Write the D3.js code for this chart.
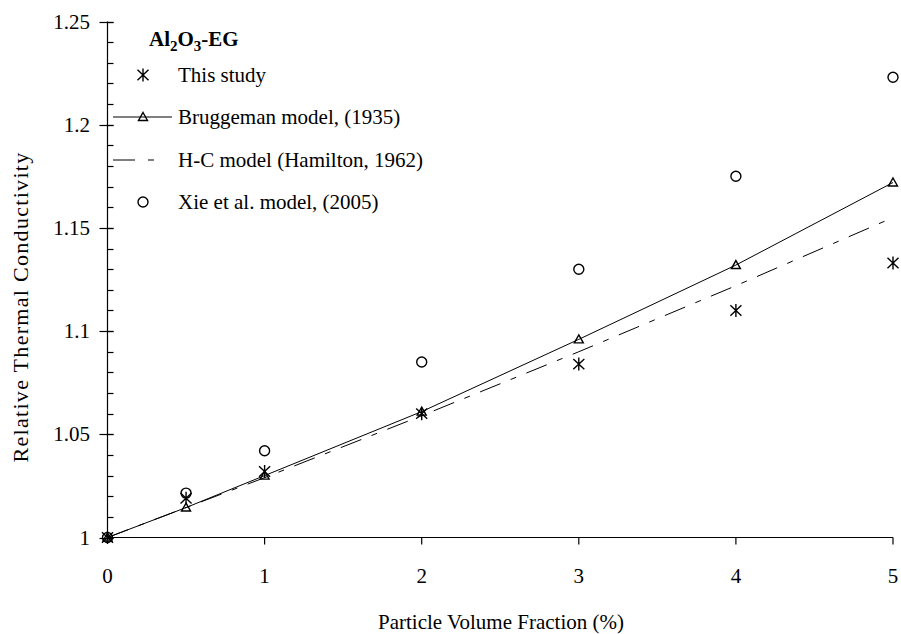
<!DOCTYPE html>
<html>
<head>
<meta charset="utf-8">
<script src="https://cdn.jsdelivr.net/npm/d3@7"></script>
<style>
  body { margin: 0; background: #fff; }
</style>
</head>
<body>
<svg width="901" height="634"></svg>
<script>
// volume fraction (%)
var fractions = [0, 0.5, 1, 2, 3, 4, 5];
var thisStudy = [1.0, 1.019, 1.032, 1.060, 1.084, 1.110, 1.133];
var bruggeman = [1.0, 1.0145, 1.030, 1.061, 1.096, 1.132, 1.172];
var hamilton = [1.0, 1.0145, 1.029, 1.059, 1.090, 1.122, 1.155];
var xie = [1.0, 1.0215, 1.042, 1.085, 1.130, 1.175, 1.223];

var xTicks = [0, 1, 2, 3, 4, 5];
var yTicks = [1, 1.05, 1.1, 1.15, 1.2, 1.25];
var yMinor = d3.range(1, 1.2501, 0.01);

var legendItems = ["This study", "Bruggeman model, (1935)", "H-C model (Hamilton, 1962)", "Xie et al. model, (2005)"];

var FONT = "'Liberation Serif', Tinos, 'Times New Roman', Times, serif";

var svg = d3.select("svg");

var x = d3.scaleLinear().domain([0, 5]).range([107.5, 893]);
var y = d3.scaleLinear().domain([1, 1.25]).range([537.5, 21.5]);

// axes drawn by hand to get the excel look
var axes = svg.append("g").attr("stroke", "#000").attr("stroke-width", 1.2);
axes.append("line").attr("x1", x(0)).attr("x2", x(0)).attr("y1", y(1.25)).attr("y2", y(1));
axes.append("line").attr("x1", x(0)).attr("x2", x(5)).attr("y1", y(1)).attr("y2", y(1));

axes.selectAll(".minor").data(yMinor).enter().append("line")
    .attr("x1", x(0)).attr("x2", x(0) + 6)
    .attr("y1", function(d) { return Math.round(y(d)) + 0.5; })
    .attr("y2", function(d) { return Math.round(y(d)) + 0.5; });

axes.selectAll(".ymajor").data(yTicks).enter().append("line")
    .attr("x1", x(0) - 8).attr("x2", x(0) + 6)
    .attr("y1", function(d) { return Math.round(y(d)) + 0.5; })
    .attr("y2", function(d) { return Math.round(y(d)) + 0.5; });

axes.selectAll(".xmajor").data(xTicks.slice(1)).enter().append("line")
    .attr("x1", function(d) { return x(d); }).attr("x2", function(d) { return x(d); })
    .attr("y1", y(1)).attr("y2", y(1) + 7);

svg.selectAll(".ylab").data(yTicks).enter().append("text")
    .attr("x", 90)
    .attr("y", function(d) { return y(d) + 7; })
    .attr("text-anchor", "end")
    .attr("font-family", FONT).attr("font-size", 21)
    .text(function(d) { return String(+d.toFixed(2)); });

svg.selectAll(".xlab").data(xTicks).enter().append("text")
    .attr("x", function(d) { return x(d); })
    .attr("y", 583)
    .attr("text-anchor", "middle")
    .attr("font-family", FONT).attr("font-size", 21)
    .text(function(d) { return d; });

svg.append("text")
    .attr("x", 501).attr("y", 629)
    .attr("text-anchor", "middle")
    .attr("font-family", FONT).attr("font-size", 21)
    .text("Particle Volume Fraction (%)");

svg.append("text")
    .attr("transform", "translate(28,307) rotate(-90)")
    .attr("text-anchor", "middle")
    .attr("font-family", FONT).attr("font-size", 22)
    .attr("letter-spacing", 1.3)
    .text("Relative Thermal Conductivity");

// model lines
var line = d3.line()
    .x(function(d) { return x(d[0]); })
    .y(function(d) { return y(d[1]); });

svg.append("path")
    .datum(d3.zip(fractions, hamilton))
    .attr("d", line)
    .attr("fill", "none").attr("stroke", "#000").attr("stroke-width", 1)
    .attr("stroke-dasharray", "22,11,6,11");

svg.append("path")
    .datum(d3.zip(fractions, bruggeman))
    .attr("d", line)
    .attr("fill", "none").attr("stroke", "#000").attr("stroke-width", 1);

// markers
function asterisk(s) {
  return "M0," + (-s) + "V" + s +
    "M" + (-s * 0.85) + "," + (-s * 0.8) + "L" + (s * 0.85) + "," + (s * 0.8) +
    "M" + (-s * 0.85) + "," + (s * 0.8) + "L" + (s * 0.85) + "," + (-s * 0.8);
}
var tri = "M0,-4.5L4.5,3.5L-4.5,3.5Z";

function drawMarkers(vals, kind) {
  var g = svg.append("g").attr("fill", "none").attr("stroke", "#000").attr("stroke-width", 1.4);
  var sel = g.selectAll("path").data(d3.zip(fractions, vals)).enter();
  if (kind === "circle") {
    sel.append("circle")
      .attr("cx", function(d) { return x(d[0]); })
      .attr("cy", function(d) { return y(d[1]); })
      .attr("r", 5);
  } else {
    sel.append("path")
      .attr("d", kind === "tri" ? tri : asterisk(6.5))
      .attr("transform", function(d) { return "translate(" + x(d[0]) + "," + y(d[1]) + ")"; });
  }
}
drawMarkers(xie, "circle");
drawMarkers(bruggeman, "tri");
drawMarkers(thisStudy, "star");

// legend
var title = svg.append("text").attr("x", 149).attr("y", 46)
    .attr("font-family", FONT).attr("font-size", 21).attr("font-weight", "bold");
title.append("tspan").text("Al");
title.append("tspan").attr("dy", 5).attr("font-size", 15).text("2");
title.append("tspan").attr("dy", -5).text("O");
title.append("tspan").attr("dy", 5).attr("font-size", 15).text("3");
title.append("tspan").attr("dy", -5).text("-EG");

var rowY = [75, 117, 160, 202];
var lg = svg.append("g").attr("fill", "none").attr("stroke", "#000");

lg.append("path").attr("d", asterisk(6.5)).attr("stroke-width", 1.4)
    .attr("transform", "translate(143," + rowY[0] + ")");
lg.append("line").attr("x1", 113).attr("x2", 172).attr("y1", rowY[1]).attr("y2", rowY[1]);
lg.append("path").attr("d", tri).attr("stroke-width", 1.4)
    .attr("transform", "translate(143," + rowY[1] + ")");
lg.append("line").attr("x1", 113).attr("x2", 172).attr("y1", rowY[2]).attr("y2", rowY[2])
    .attr("stroke-dasharray", "22,13,6,40");
lg.append("circle").attr("cx", 143).attr("cy", rowY[3]).attr("r", 5).attr("stroke-width", 1.4);

svg.selectAll(".leg").data(legendItems).enter().append("text")
    .attr("x", 178)
    .attr("y", function(d, i) { return rowY[i] + 7; })
    .attr("font-family", FONT).attr("font-size", 21)
    .text(function(d) { return d; });
</script>
</body>
</html>
